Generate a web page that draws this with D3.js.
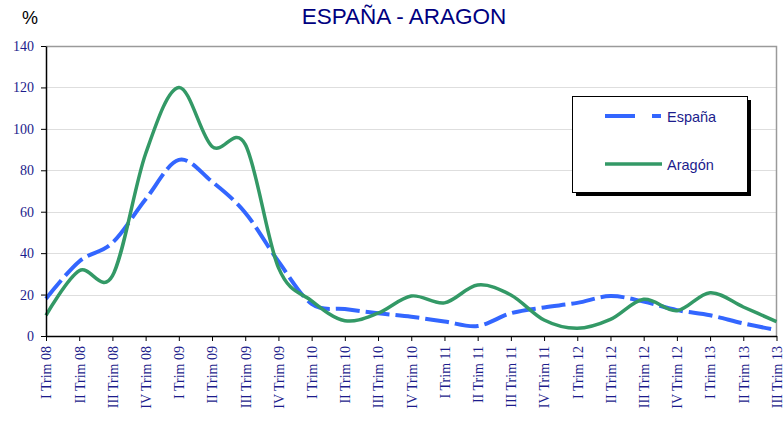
<!DOCTYPE html>
<html>
<head>
<meta charset="utf-8">
<script src="https://cdn.jsdelivr.net/npm/d3@7"></script>
<style>
  body { margin: 0; background: #fff; }
  svg { display: block; }
</style>
</head>
<body>
<div id="chart"></div>
<script>
let quarters = ["I Trim 08", "II Trim 08", "III Trim 08", "IV Trim 08",
  "I Trim 09", "II Trim 09", "III Trim 09", "IV Trim 09",
  "I Trim 10", "II Trim 10", "III Trim 10", "IV Trim 10",
  "I Trim 11", "II Trim 11", "III Trim 11", "IV Trim 11",
  "I Trim 12", "II Trim 12", "III Trim 12", "IV Trim 12",
  "I Trim 13", "II Trim 13", "III Trim 13"];

let espana = [18, 36, 45, 66, 85, 74.5, 59.5, 36, 15.5, 13, 11, 9.3, 7, 4.8,
  11, 13.8, 16, 19.3, 16.6, 12.5, 10, 6.1, 2.9];

let aragon = [10, 31.5, 29, 88, 120, 91.5, 92.5, 33, 17, 7.4, 11, 19.3, 16, 24.6,
  19.8, 7.7, 3.7, 8, 17.7, 12.2, 20.9, 14, 6.9];

let yTicks = [0, 20, 40, 60, 80, 100, 120, 140];

let svgWidth = 783;
let svgHeight = 425;

let margin = { top: 46, right: 6, bottom: 89, left: 46 };
let chartWidth = svgWidth - margin.left - margin.right;
let chartHeight = svgHeight - margin.top - margin.bottom;

let navy = "#1c1c8c";

let x = d3.scalePoint()
  .domain(quarters)
  .range([0, chartWidth - 0.5]);

let y = d3.scaleLinear()
  .domain([0, 140])
  .range([chartHeight, 0]);

let svg = d3.select("#chart")
  .append("svg")
  .attr("width", svgWidth)
  .attr("height", svgHeight);

// title and unit
svg.append("text")
  .attr("x", 404)
  .attr("y", 24)
  .attr("text-anchor", "middle")
  .attr("font-family", "Liberation Sans, Arial, sans-serif")
  .attr("font-size", 22.5)
  .attr("fill", "#000080")
  .text("ESPAÑA - ARAGON");

svg.append("text")
  .attr("x", 30)
  .attr("y", 24)
  .attr("text-anchor", "middle")
  .attr("font-family", "Liberation Sans, Arial, sans-serif")
  .attr("font-size", 18)
  .attr("fill", "#000")
  .text("%");

let plot = svg.append("g")
  .attr("transform", "translate(" + margin.left + ", " + margin.top + ")");

// gridlines
plot.append("g")
  .selectAll("line")
  .data(yTicks.filter(d => d > 0 && d < 140))
  .enter()
  .append("line")
    .attr("x1", 0)
    .attr("x2", chartWidth)
    .attr("y1", d => Math.round(y(d)) + 0.5)
    .attr("y2", d => Math.round(y(d)) + 0.5)
    .attr("stroke", "#dedede")
    .attr("stroke-width", 1);

// plot area border (top and right)
plot.append("path")
  .attr("d", "M0," + 0.5 + "H" + (chartWidth - 0.5) + "V" + chartHeight)
  .attr("fill", "none")
  .attr("stroke", "#9a9a9a")
  .attr("stroke-width", 1.5);

let smooth = d3.curveCardinal.tension(0);

let line = d3.line()
  .x((d, i) => x(quarters[i]))
  .y(d => y(d))
  .curve(smooth);

plot.append("path")
  .datum(espana)
  .attr("d", line)
  .attr("fill", "none")
  .attr("stroke", "#3366ff")
  .attr("stroke-width", 4)
  .attr("stroke-dasharray", "24,6");

plot.append("path")
  .datum(aragon)
  .attr("d", line)
  .attr("fill", "none")
  .attr("stroke", "#339966")
  .attr("stroke-width", 3.5);

// y axis
let yAxis = plot.append("g")
  .call(d3.axisLeft(y).tickValues(yTicks).tickSize(5).tickSizeOuter(0));

yAxis.select(".domain").attr("stroke", "#000").attr("stroke-width", 1.5);
yAxis.selectAll(".tick line").attr("stroke", "#000");
yAxis.selectAll(".tick text")
  .attr("x", -12)
  .attr("font-family", "Liberation Serif, Times New Roman, serif")
  .attr("font-size", 14)
  .attr("fill", navy);

// x axis
let xAxis = plot.append("g")
  .attr("transform", "translate(0, " + chartHeight + ")")
  .call(d3.axisBottom(x).tickSize(5).tickSizeOuter(0));

xAxis.select(".domain").attr("stroke", "#000").attr("stroke-width", 1.5);
xAxis.selectAll(".tick line").attr("stroke", "#000");
xAxis.selectAll(".tick text")
  .attr("transform", "rotate(-90)")
  .attr("x", -10)
  .attr("y", 0)
  .attr("dy", "0.35em")
  .attr("text-anchor", "end")
  .attr("font-family", "Liberation Serif, Times New Roman, serif")
  .attr("font-size", 14)
  .attr("fill", navy);

// legend
let legend = svg.append("g")
  .attr("transform", "translate(572, 96)");

legend.append("rect")
  .attr("x", 4)
  .attr("y", 4)
  .attr("width", 175)
  .attr("height", 96)
  .attr("fill", "#000");

legend.append("rect")
  .attr("x", 0.5)
  .attr("y", 0.5)
  .attr("width", 175)
  .attr("height", 96)
  .attr("fill", "#fff")
  .attr("stroke", "#000")
  .attr("stroke-width", 1);

legend.append("line")
  .attr("x1", 33).attr("x2", 89)
  .attr("y1", 20).attr("y2", 20)
  .attr("stroke", "#3366ff")
  .attr("stroke-width", 4)
  .attr("stroke-dasharray", "30,17");

legend.append("line")
  .attr("x1", 33).attr("x2", 90)
  .attr("y1", 68).attr("y2", 68)
  .attr("stroke", "#339966")
  .attr("stroke-width", 3.5);

legend.selectAll("text.label")
  .data(["España", "Aragón"])
  .enter()
  .append("text")
    .attr("class", "label")
    .attr("x", 95)
    .attr("y", (d, i) => 26 + i * 48)
    .attr("font-family", "Liberation Sans, Arial, sans-serif")
    .attr("font-size", 14.5)
    .attr("fill", navy)
    .text(d => d);
</script>
</body>
</html>
